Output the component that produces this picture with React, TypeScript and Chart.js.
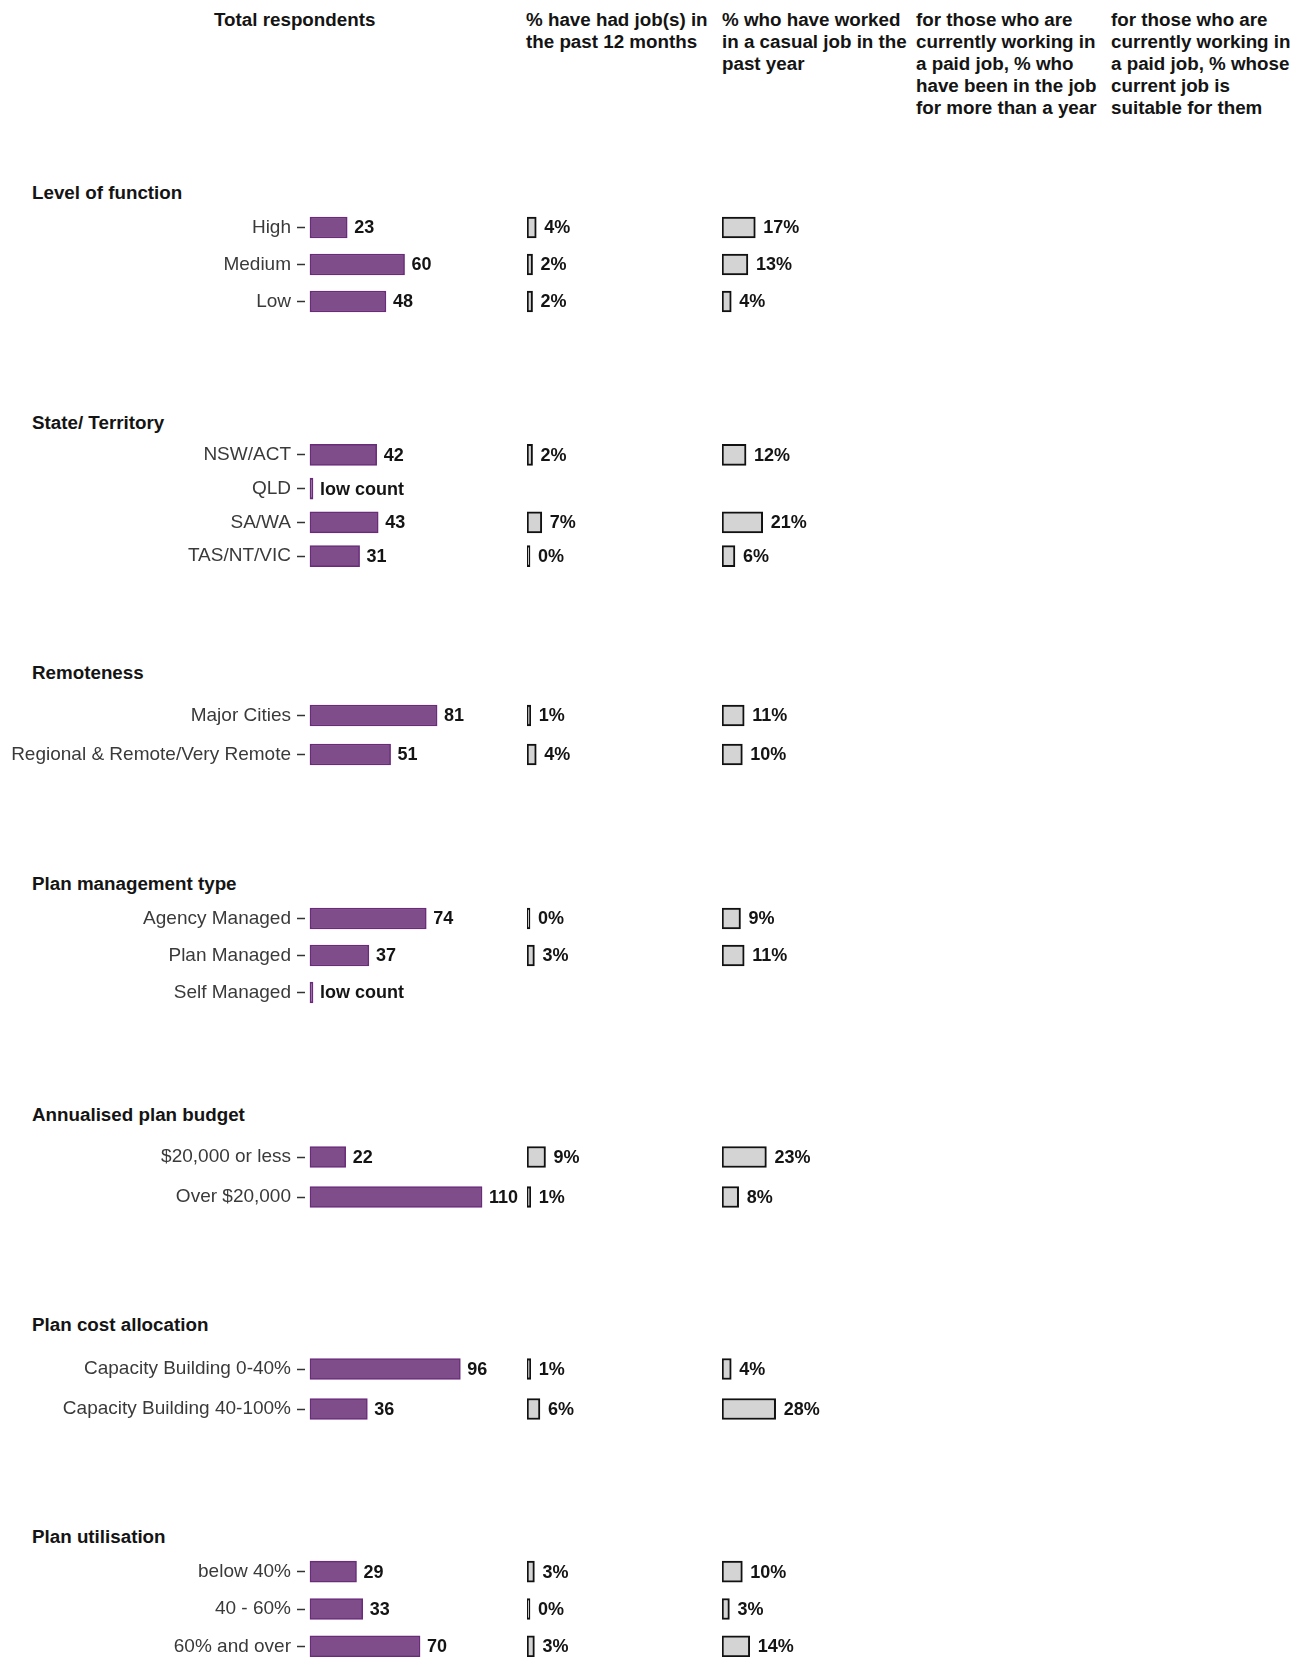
import React, { useEffect, useRef } from "react";
import { Chart, registerables } from "chart.js";

Chart.register(...registerables);

const FONT = '"Liberation Sans", Arial, Helvetica, sans-serif';

// ---------------- DATA ----------------
const COLUMN_TITLES: string[][] = [
  ["Total respondents"],
  ["% have had job(s) in", "the past 12 months"],
  ["% who have worked", "in a casual job in the", "past year"],
  ["for those who are", "currently working in", "a paid job, % who", "have been in the job", "for more than a year"],
  ["for those who are", "currently working in", "a paid job, % whose", "current job is", "suitable for them"],
];

const GROUP_TITLES = [
  "Level of function",
  "State/ Territory",
  "Remoteness",
  "Plan management type",
  "Annualised plan budget",
  "Plan cost allocation",
  "Plan utilisation",
];

// null total = "low count"
const levelCats = ["High", "Medium", "Low"];
const levelTotal: (number | null)[] = [23, 60, 48];
const levelJob12: (number | null)[] = [4, 2, 2];
const levelCasual: (number | null)[] = [17, 13, 4];

const stateCats = ["NSW/ACT", "QLD", "SA/WA", "TAS/NT/VIC"];
const stateTotal: (number | null)[] = [42, null, 43, 31];
const stateJob12: (number | null)[] = [2, null, 7, 0];
const stateCasual: (number | null)[] = [12, null, 21, 6];

const remoteCats = ["Major Cities", "Regional & Remote/Very Remote"];
const remoteTotal: (number | null)[] = [81, 51];
const remoteJob12: (number | null)[] = [1, 4];
const remoteCasual: (number | null)[] = [11, 10];

const mgmtCats = ["Agency Managed", "Plan Managed", "Self Managed"];
const mgmtTotal: (number | null)[] = [74, 37, null];
const mgmtJob12: (number | null)[] = [0, 3, null];
const mgmtCasual: (number | null)[] = [9, 11, null];

const budgetCats = ["$20,000 or less", "Over $20,000"];
const budgetTotal: (number | null)[] = [22, 110];
const budgetJob12: (number | null)[] = [9, 1];
const budgetCasual: (number | null)[] = [23, 8];

const costCats = ["Capacity Building 0-40%", "Capacity Building 40-100%"];
const costTotal: (number | null)[] = [96, 36];
const costJob12: (number | null)[] = [1, 6];
const costCasual: (number | null)[] = [4, 28];

const utilCats = ["below 40%", "40 - 60%", "60% and over"];
const utilTotal: (number | null)[] = [29, 33, 70];
const utilJob12: (number | null)[] = [3, 0, 3];
const utilCasual: (number | null)[] = [10, 3, 14];

const LOW_COUNT_TEXT = "low count";

const GROUPS = [
  { cats: levelCats, total: levelTotal, job12: levelJob12, casual: levelCasual },
  { cats: stateCats, total: stateTotal, job12: stateJob12, casual: stateCasual },
  { cats: remoteCats, total: remoteTotal, job12: remoteJob12, casual: remoteCasual },
  { cats: mgmtCats, total: mgmtTotal, job12: mgmtJob12, casual: mgmtCasual },
  { cats: budgetCats, total: budgetTotal, job12: budgetJob12, casual: budgetCasual },
  { cats: costCats, total: costTotal, job12: costJob12, casual: costCasual },
  { cats: utilCats, total: utilTotal, job12: utilJob12, casual: utilCasual },
];

// ---------------- LAYOUT ----------------
// header centre y, first row centre y, row step (px)
const GROUP_LAYOUT = [
  { header: 192.5, first: 227.2, step: 37 },
  { header: 422.8, first: 454.5, step: 33.8 },
  { header: 673.2, first: 715.5, step: 39.1 },
  { header: 883.6, first: 918.4, step: 37 },
  { header: 1115, first: 1157.3, step: 40.2 },
  { header: 1325.3, first: 1368.6, step: 40.2 },
  { header: 1536.7, first: 1571.6, step: 37.3 },
];

const COL_HEADER_LEFT = [214, 526, 722, 916, 1111];
const COL1 = { left: 0, width: 527, axisWidth: 305, pad: 5, pxPerUnit: 1.55 };
const COL2 = { left: 527, width: 195, pxPerUnit: 1.85 };
const COL3 = { left: 722, width: 195, pxPerUnit: 1.85 };

const PURPLE_FILL = "#7e4d8a";
const PURPLE_BORDER = "#6a2b7a";
const GREY_FILL = "#d4d4d4";
const GREY_BORDER = "#111111";

const valueLabelPlugin = {
  id: "valueLabels",
  afterDatasetsDraw(chart: any, _args: any, opts: any) {
    const texts: (string | null)[] = opts.texts || [];
    const ctx = chart.ctx;
    const meta = chart.getDatasetMeta(0);
    ctx.save();
    ctx.font = `bold 18px ${FONT}`;
    ctx.fillStyle = "#141414";
    ctx.textBaseline = "middle";
    ctx.textAlign = "left";
    meta.data.forEach((bar: any, i: number) => {
      const t = texts[i];
      if (!t) return;
      const p = bar.getProps(["x", "y"], true);
      ctx.fillText(t, p.x + opts.gap, p.y + 1);
    });
    ctx.restore();
  },
};

type PanelProps = {
  kind: "total" | "pct";
  cats: string[];
  values: (number | null)[];
  left: number;
  width: number;
  top: number;
  height: number;
  pxPerUnit: number;
  axisWidth?: number;
  pad?: number;
};

function BarPanel(props: PanelProps) {
  const ref = useRef<HTMLCanvasElement | null>(null);
  useEffect(() => {
    const { kind, cats, values, width, pxPerUnit } = props;
    const isTotal = kind === "total";
    const axisW = props.axisWidth || 0;
    const base = -1;
    const min = base - (props.pad || 0) / pxPerUnit;
    const max = min + (width - axisW) / pxPerUnit;
    const data = values.map((v) => (isTotal && v === null ? 0 : v));
    const texts = values.map((v) =>
      v === null ? (isTotal ? LOW_COUNT_TEXT : null) : isTotal ? String(v) : `${v}%`
    );
    const chart = new Chart(ref.current as HTMLCanvasElement, {
      type: "bar",
      data: {
        labels: cats,
        datasets: [
          {
            data,
            base,
            backgroundColor: isTotal ? PURPLE_FILL : GREY_FILL,
            borderColor: isTotal ? PURPLE_BORDER : GREY_BORDER,
            borderWidth: isTotal ? 1.5 : 2,
            borderSkipped: false,
            barThickness: 21,
            minBarLength: 3,
          } as any,
        ],
      },
      options: {
        indexAxis: "y",
        responsive: false,
        maintainAspectRatio: false,
        animation: false,
        layout: { padding: 0 },
        events: [],
        plugins: {
          legend: { display: false },
          tooltip: { enabled: false },
          valueLabels: { texts, gap: isTotal ? 7 : 8 },
        } as any,
        scales: {
          x: { type: "linear", display: false, min, max },
          y: {
            type: "category",
            display: isTotal,
            offset: true,
            grid: {
              display: true,
              drawOnChartArea: false,
              drawTicks: true,
              tickLength: 8,
              tickColor: "#333333",
              tickWidth: 1.5,
              offset: false,
            },
            border: { display: false },
            ticks: {
              font: { family: FONT, size: 19 },
              color: "#3a3a3a",
              padding: 6,
            },
            afterFit: (s: any) => {
              s.width = axisW;
              s.paddingTop = 0;
              s.paddingBottom = 0;
            },
          } as any,
        },
      },
      plugins: [valueLabelPlugin],
    });
    return () => chart.destroy();
  }, []);
  return (
    <canvas
      ref={ref}
      width={props.width}
      height={props.height}
      style={{
        position: "absolute",
        left: props.left,
        top: props.top,
        width: props.width,
        height: props.height,
      }}
    />
  );
}

export default function App() {
  const headerStyle: React.CSSProperties = {
    position: "absolute",
    fontFamily: FONT,
    fontWeight: "bold",
    fontSize: 18.8,
    lineHeight: "22px",
    color: "#141414",
    whiteSpace: "nowrap",
  };
  return (
    <div
      style={{
        position: "absolute",
        left: 0,
        top: 0,
        width: 1301,
        height: 1657,
        background: "#ffffff",
        overflow: "hidden",
      }}
    >
      {COLUMN_TITLES.map((lines, i) => (
        <div key={"ct" + i} style={{ ...headerStyle, left: COL_HEADER_LEFT[i], top: 9 }}>
          {lines.map((l, j) => (
            <div key={j}>{l}</div>
          ))}
        </div>
      ))}
      {GROUPS.map((g, gi) => {
        const L = GROUP_LAYOUT[gi];
        const height = Math.round(g.cats.length * L.step);
        const top = L.first - L.step / 2;
        return (
          <React.Fragment key={"g" + gi}>
            <div style={{ ...headerStyle, left: 32, top: L.header - 11 }}>{GROUP_TITLES[gi]}</div>
            <BarPanel
              kind="total"
              cats={g.cats}
              values={g.total}
              left={COL1.left}
              width={COL1.width}
              top={top}
              height={height}
              pxPerUnit={COL1.pxPerUnit}
              axisWidth={COL1.axisWidth}
              pad={COL1.pad}
            />
            <BarPanel
              kind="pct"
              cats={g.cats}
              values={g.job12}
              left={COL2.left}
              width={COL2.width}
              top={top}
              height={height}
              pxPerUnit={COL2.pxPerUnit}
            />
            <BarPanel
              kind="pct"
              cats={g.cats}
              values={g.casual}
              left={COL3.left}
              width={COL3.width}
              top={top}
              height={height}
              pxPerUnit={COL3.pxPerUnit}
            />
          </React.Fragment>
        );
      })}
    </div>
  );
}
